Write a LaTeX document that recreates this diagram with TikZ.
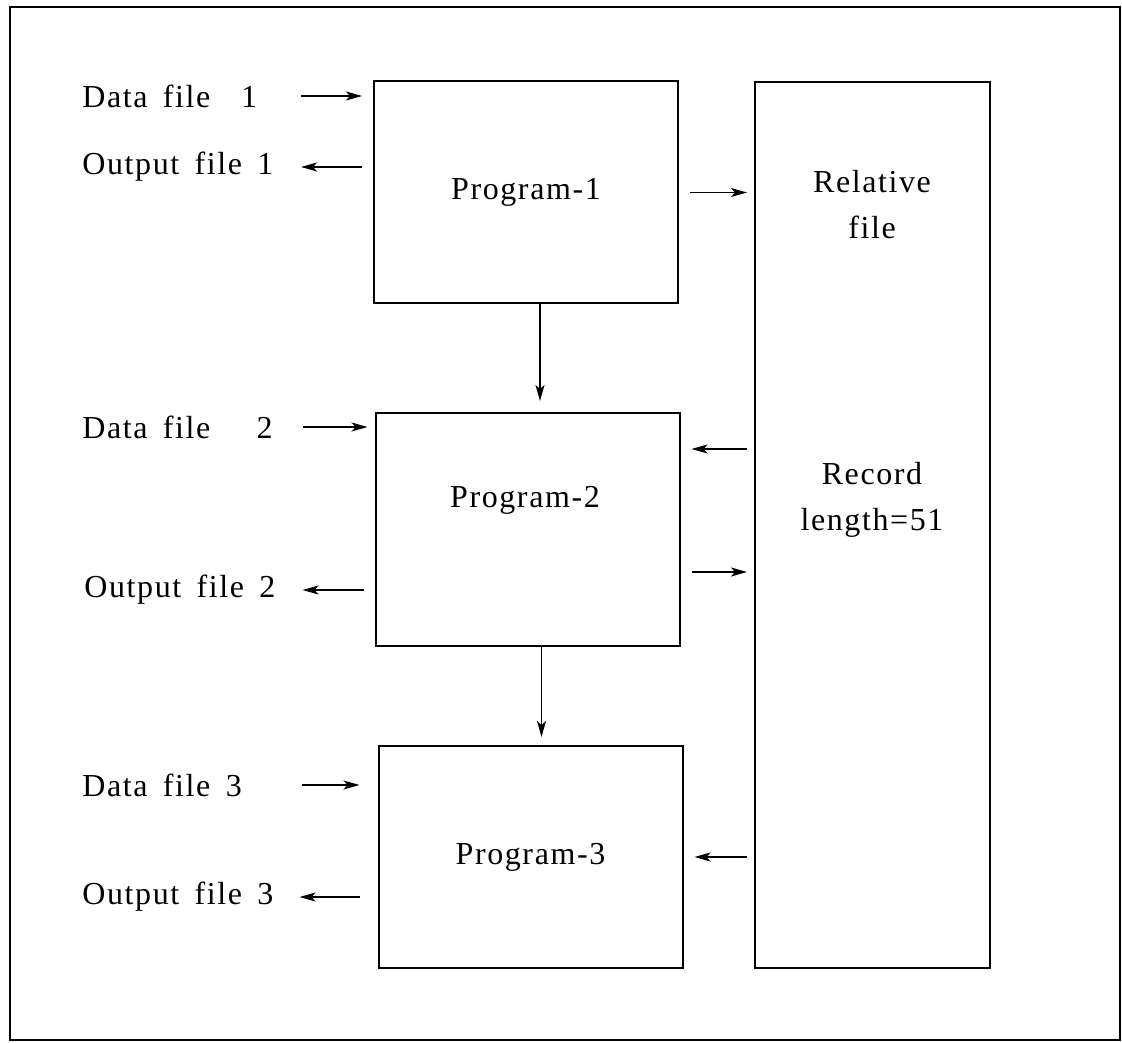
\documentclass[tikz,border=0pt]{standalone}
\usepackage{fontspec}
\setmainfont[LetterSpace=5,WordSpace=1.6]{Liberation Serif}
\usepackage{tikz}
\usetikzlibrary{positioning,arrows.meta}
\tikzset{
	prog/.style={%
		draw, line width=1pt,
		minimum width=#1,
		minimum height=111pt,
		inner sep=0pt
	},
	prog/.default=152pt,
	filelabel/.style={anchor=west, inner sep=0pt},
	flow/.style={-{Stealth[length=8pt,width=4.5pt,inset=2pt]}, line width=0.6pt},
	>=Stealth
}

\begin{document}
\begin{tikzpicture}[x=0.5pt,y=-0.5pt,
		font=\fontsize{16}{19}\selectfont]
		\useasboundingbox (0,0) rectangle (1122,1042);
		
		% frame round the figure
		\draw[line width=0.8pt] (10,7) rectangle (1120,1040);
		
		% the three programs and the shared file
		\node[prog] (prog1) at (526,192.5) {Program-1};
		\node[prog,minimum height=116.5pt] (prog2) at (527.5,529.5) {};
		\node (prog2name) at (525,500) {Program-2};
		\node[prog,minimum height=111pt] (prog3) at (530.5,857) {Program-3};
		
		\node[prog=117.5pt,minimum height=443pt] (rel) at (872.5,525) {};
		\node[align=center,inner sep=0pt] (relname) at (872,205) {Relative\\[4pt]file};
		\node[align=center,inner sep=0pt] (reclen) at (872,500) {Record\\[4pt]length=51};
		
		% data and output files
		\node[filelabel] (data1) at (82,96) {Data file~~1};
		\node[filelabel] (out1) at (82,167) {Output file 1};
		\node[filelabel] (data2) at (82,427) {Data file~~~2};
		\node[filelabel] (out2) at (84,590) {Output file 2};
		\node[filelabel] (data3) at (82,785) {Data file 3};
		\node[filelabel] (out3) at (82,897) {Output file 3};
		
		%arrows from the files
		\draw[flow] ([xshift=-36pt]prog1.west |- data1) -- ([xshift=-5.5pt]prog1.west |- data1);
		\draw[flow] ([xshift=-5.5pt]prog1.west |- out1) -- ([xshift=-36pt]prog1.west |- out1);
		\draw[flow] ([xshift=-36pt]prog2.west |- data2) -- ([xshift=-3.5pt]prog2.west |- data2);
		\draw[flow] ([xshift=-5.5pt]prog2.west |- out2) -- ([xshift=-36pt]prog2.west |- out2);
		\draw[flow] ([xshift=-38pt]prog3.west |- data3) -- ([xshift=-9pt]prog3.west |- data3);
		\draw[flow] ([xshift=-9pt]prog3.west |- out3) -- ([xshift=-39pt]prog3.west |- out3);
		
		%arrows between the boxes
		\draw[flow] ([xshift=7pt]prog1.south) -- ([xshift=7pt]prog1.south |- prog2.north) [shorten >=5.5pt];
		\draw[flow] ([xshift=7pt]prog2.south) -- ([xshift=7pt]prog2.south |- prog3.north) [shorten >=4pt];
		
		\draw[flow,shorten <=5.5pt,shorten >=3.5pt] (prog1.east) -- (rel.west |- prog1.east);
		\draw[flow,shorten <=3.5pt,shorten >=5.5pt] (rel.west |- 0,449) -- (prog2.east |- 0,449);
		\draw[flow,shorten <=5.5pt,shorten >=3.5pt] (prog2.east |- 0,572) -- (rel.west |- 0,572);
		\draw[flow,shorten <=3.5pt,shorten >=5.5pt] (rel.west |- prog3.east) -- (prog3.east);
		
\end{tikzpicture}
\end{document}
